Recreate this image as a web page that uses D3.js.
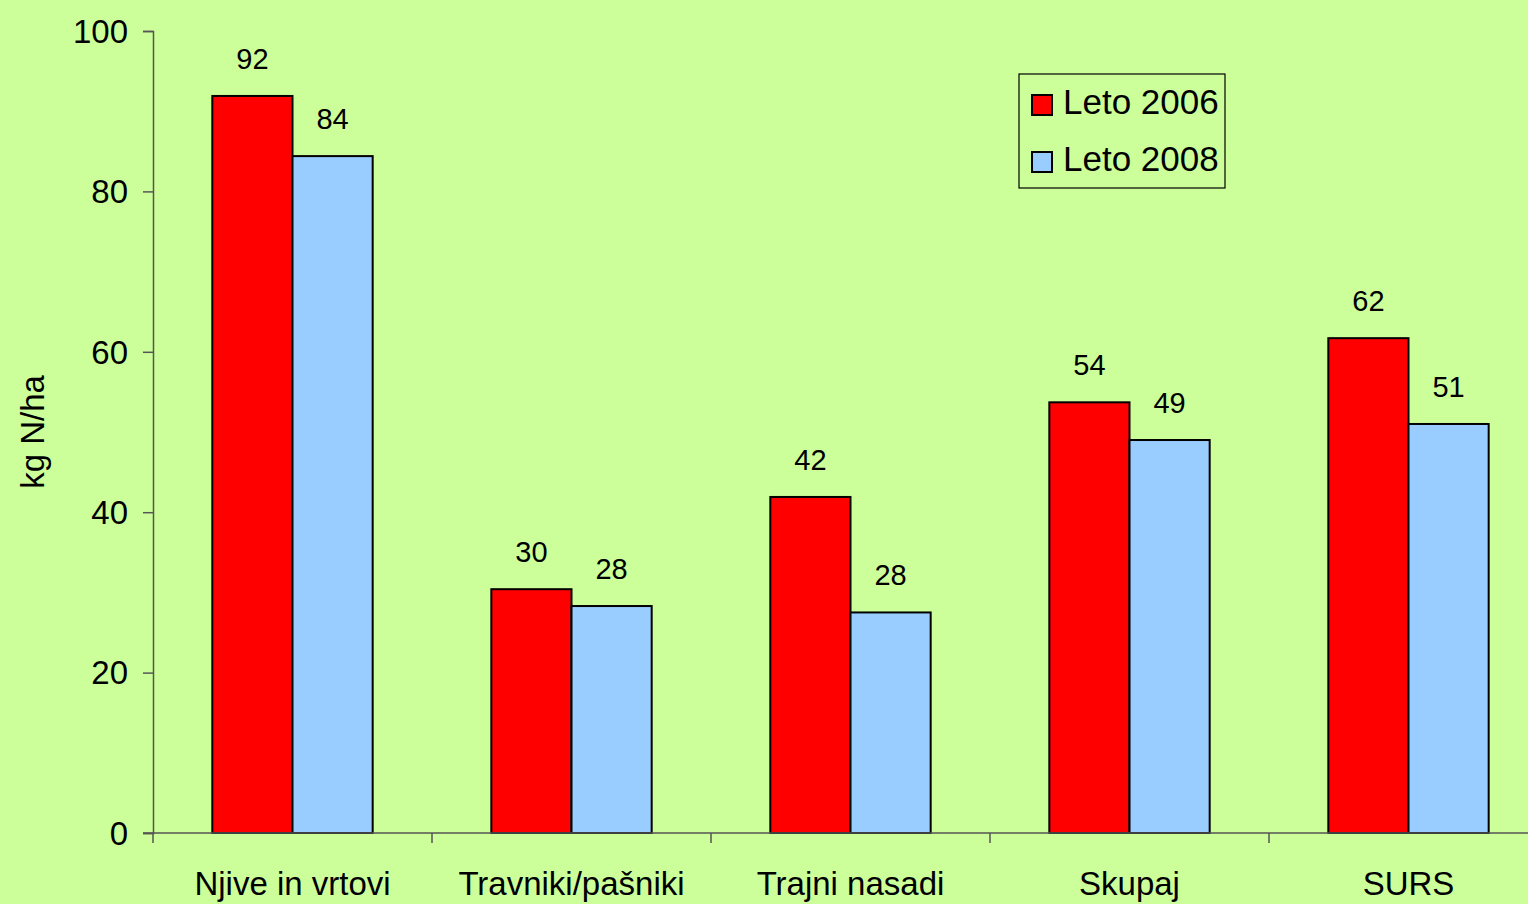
<!DOCTYPE html>
<html>
<head>
<meta charset="utf-8">
<script src="https://cdn.jsdelivr.net/npm/d3@7"></script>
<style>
  html, body { margin: 0; padding: 0; background: #ccff99; overflow: hidden; }
  svg { display: block; font-family: "Liberation Sans", Arial, sans-serif; }
</style>
</head>
<body>
<svg id="chart"></svg>
<script>
const categories = ['Njive in vrtovi', 'Travniki/pašniki', 'Trajni nasadi', 'Skupaj', 'SURS'];
const series = ['Leto 2006', 'Leto 2008'];
const leto2006 = [91.9, 30.4, 41.9, 53.7, 61.7];
const leto2008 = [84.4, 28.3, 27.5, 49.0, 51.0];
const yTicks = [0, 20, 40, 60, 80, 100];
const colors = ['#ff0000', '#99ccff'];

const W = 1528, H = 904;
const svg = d3.select('#chart').attr('width', W).attr('height', H);

// plot area runs past the right edge, like the original cut-off picture
const plot = { left: 153, right: 1548, top: 31, bottom: 833 };

const x = d3.scaleBand().domain(categories).range([plot.left, plot.right]).paddingInner(0).paddingOuter(0);
const inner = d3.scaleBand().domain(series).range([0, x.bandwidth()]).paddingInner(0).paddingOuter(0.74);
const y = d3.scaleLinear().domain([0, 100]).range([plot.bottom, plot.top]);

const rows = categories.map((c, i) => ({ cat: c, vals: [leto2006[i], leto2008[i]] }));

// y axis
const yAxis = svg.append('g').attr('transform', `translate(${plot.left},0)`)
    .call(d3.axisLeft(y).tickValues(yTicks).tickSize(10).tickPadding(15).tickFormat(d3.format('d')));
yAxis.select('.domain').attr('stroke', '#555').attr('stroke-width', 1.5);
yAxis.selectAll('.tick line').attr('stroke', '#555').attr('stroke-width', 1.5);
yAxis.selectAll('.tick text').attr('font-size', 33).attr('fill', '#000')
    .attr('font-family', '"Liberation Sans", Arial, sans-serif').attr('dy', '0.34em');

svg.append('text')
    .attr('transform', `translate(44,${(plot.top + plot.bottom) / 2}) rotate(-90)`)
    .attr('text-anchor', 'middle')
    .attr('font-size', 33)
    .text('kg N/ha');

// bars
const groups = svg.append('g').selectAll('g').data(rows).join('g')
    .attr('transform', d => `translate(${x(d.cat)},0)`);

groups.selectAll('rect').data(d => d.vals.map((v, k) => ({ v, k }))).join('rect')
    .attr('x', d => inner(series[d.k]))
    .attr('y', d => y(d.v))
    .attr('width', inner.bandwidth())
    .attr('height', d => y(0) - y(d.v))
    .attr('fill', d => colors[d.k])
    .attr('stroke', '#000')
    .attr('stroke-width', 2);

groups.selectAll('text.val').data(d => d.vals.map((v, k) => ({ v, k }))).join('text')
    .attr('class', 'val')
    .attr('x', d => inner(series[d.k]) + inner.bandwidth() / 2)
    .attr('y', d => y(d.v) - 27)
    .attr('text-anchor', 'middle')
    .attr('font-size', 29)
    .text(d => d3.format('.0f')(d.v));

// x axis
const xAxis = svg.append('g').attr('transform', `translate(0,${plot.bottom})`);
xAxis.append('line').attr('x1', plot.left - 10).attr('x2', plot.right).attr('y1', 0).attr('y2', 0)
    .attr('stroke', '#555').attr('stroke-width', 1.5);
const bounds = categories.map(c => x(c)).concat([plot.right]);
xAxis.selectAll('line.tk').data(bounds).join('line').attr('class', 'tk')
    .attr('x1', d => d).attr('x2', d => d).attr('y1', 0).attr('y2', 10)
    .attr('stroke', '#555').attr('stroke-width', 1.5);
xAxis.selectAll('text').data(categories).join('text')
    .attr('x', d => x(d) + x.bandwidth() / 2)
    .attr('y', 62)
    .attr('text-anchor', 'middle')
    .attr('font-size', 33)
    .text(d => d);

// legend
const lg = svg.append('g').attr('transform', 'translate(1019,74)');
lg.append('rect').attr('width', 206).attr('height', 114)
    .attr('fill', 'none').attr('stroke', '#000').attr('stroke-width', 1.2);
series.forEach((s, i) => {
    lg.append('rect').attr('x', 13).attr('y', 21 + i * 57).attr('width', 20).attr('height', 20)
        .attr('fill', colors[i]).attr('stroke', '#000').attr('stroke-width', 2);
    lg.append('text').attr('x', 44).attr('y', 40 + i * 57).attr('font-size', 35).text(s);
});
</script>
</body>
</html>
